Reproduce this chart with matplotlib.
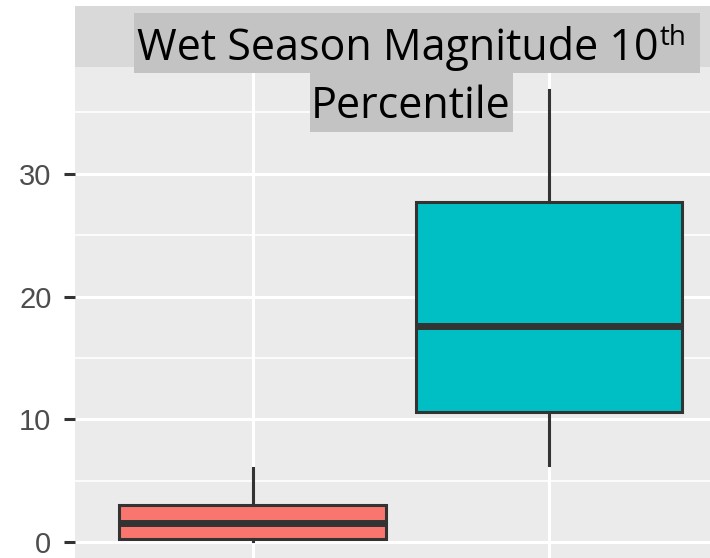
import matplotlib
matplotlib.use("Agg")
import matplotlib.pyplot as plt
from matplotlib.patches import Rectangle

# summary statistics for each group (whisker ends, quartiles, median)
groups = ["Group 1", "Group 2"]
whisker_low = [0.1, 6.3]
q1 = [0.25, 10.6]
median = [1.55, 17.6]
q3 = [3.0, 27.7]
whisker_high = [6.0, 36.8]
fill_colors = ["#F8766D", "#00BFC4"]

y_ticks = [0, 10, 20, 30]
y_minor = [5, 15, 25, 35]

W, H = 710, 558
fig = plt.figure(figsize=(W / 100, H / 100), dpi=100)

ax = fig.add_axes([75 / W, 0, 1 - 75 / W, (H - 67) / H])
ax.set_facecolor("#EBEBEB")
for side in ax.spines.values():
    side.set_visible(False)

stats = []
for i, name in enumerate(groups):
    stats.append({
        "label": name,
        "whislo": whisker_low[i],
        "q1": q1[i],
        "med": median[i],
        "q3": q3[i],
        "whishi": whisker_high[i],
        "fliers": [],
    })

bp = ax.bxp(
    stats,
    positions=[1, 2],
    widths=0.9,
    patch_artist=True,
    showcaps=False,
    boxprops=dict(edgecolor="#333333", linewidth=2.2),
    whiskerprops=dict(color="#333333", linewidth=2.2),
    medianprops=dict(color="#333333", linewidth=5, solid_capstyle="butt"),
    zorder=3,
)
for patch, c in zip(bp["boxes"], fill_colors):
    patch.set_facecolor(c)

ax.set_xlim(0.4, 2.544)
ax.set_ylim(-1.3, 38.7)
ax.set_xticks([1, 2])
ax.set_xticklabels([])
ax.tick_params(axis="x", length=0)
ax.set_yticks(y_ticks)
ax.set_yticks(y_minor, minor=True)
ax.tick_params(axis="y", which="major", length=8, width=2.2, color="#333333",
               labelsize=21, labelcolor="#4D4D4D", pad=9)
ax.tick_params(axis="y", which="minor", length=0)
for lab in ax.get_yticklabels():
    lab.set_family("Liberation Sans")

ax.grid(True, which="major", color="white", linewidth=2.2, zorder=0)
ax.grid(True, which="minor", axis="y", color="white", linewidth=1.2, zorder=0)
ax.set_axisbelow(True)

# facet strip along the top of the panel
fig.patches.append(Rectangle((75 / W, (H - 67) / H), 1 - 75 / W, 61 / H,
                             transform=fig.transFigure, facecolor="#D9D9D9",
                             edgecolor="none", zorder=1))

# gray label boxes behind the title text
fig.patches.append(Rectangle((134 / W, (H - 73) / H), (700 - 134) / W, 60 / H,
                             transform=fig.transFigure, facecolor="#C3C3C3",
                             edgecolor="none", zorder=5))
fig.patches.append(Rectangle((310 / W, (H - 132) / H), (513 - 310) / W, 59 / H,
                             transform=fig.transFigure, facecolor="#C3C3C3",
                             edgecolor="none", zorder=5))

title_font = "Open Sans"
t1 = fig.text(137 / W, (H - 60) / H, "Wet Season Magnitude 10", family=title_font,
              fontsize=31, color="black", ha="left", va="baseline", zorder=6)
fig.canvas.draw()
bb = t1.get_window_extent()
fig.text((bb.x1 + 1) / W, (H - 45) / H, "th", family=title_font, fontsize=20,
         color="black", ha="left", va="baseline", zorder=6)
fig.text(411 / W, (H - 118) / H, "Percentile", family=title_font, fontsize=31,
         color="black", ha="center", va="baseline", zorder=6)

fig.savefig("out.png", dpi=100)
